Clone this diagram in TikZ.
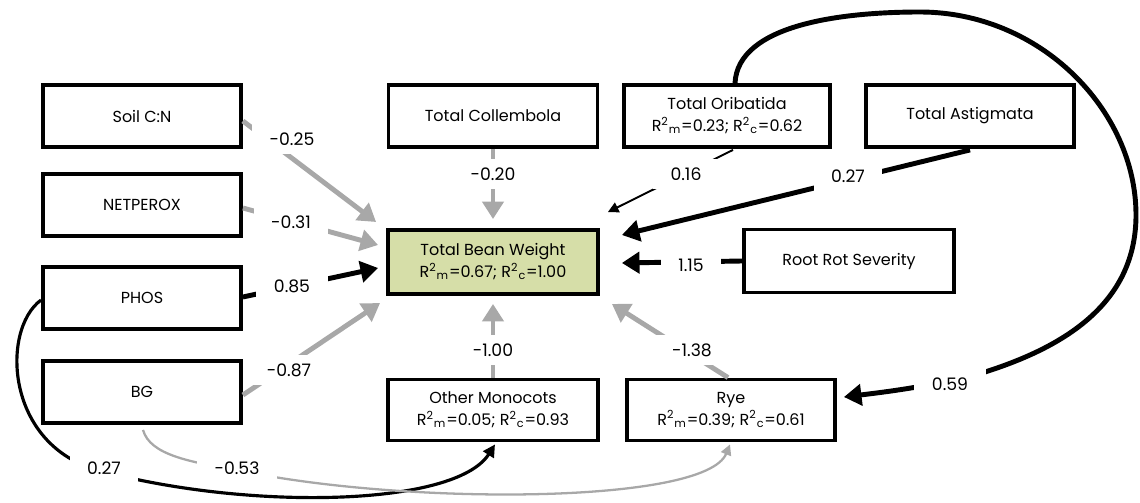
\documentclass[tikz,border=0pt]{standalone}
\usepackage{fontspec}
\setmainfont{Poppins}
\usetikzlibrary{arrows.meta,calc}
\definecolor{pathgray}{RGB}{168,168,168}
\definecolor{beanfill}{RGB}{214,222,168}
\newcommand{\rsq}[1]{R\textsuperscript{2}\textsubscript{#1}}
\begin{document}
\begin{tikzpicture}[x=0.02cm,y=-0.02cm,
  font=\fontsize{9.1}{12.5}\selectfont,
  box/.style={draw,line width=2.2pt,minimum width=3.96cm,minimum height=1.24cm,align=center,inner sep=1pt},
  lbl/.style={fill=white,inner xsep=10pt,inner ysep=5pt,font=\fontsize{9.8}{12}\selectfont},
  negedge/.style={draw=pathgray,line width=2.8pt,-{Triangle[length=10pt,width=12pt]}},
  posedge/.style={draw=black,line width=2.8pt,-{Triangle[length=10pt,width=12pt]}},
  thinedge/.style={draw=black,line width=1.1pt,-{Triangle[length=6pt,width=6pt]}},
  curvepos/.style={draw=black,line width=1.8pt,-{Triangle[length=7pt,width=7pt]}},
  curveneg/.style={draw=pathgray,line width=1.3pt,-{Triangle[length=6pt,width=6pt]}}]
\useasboundingbox (0,0) rectangle (1140,503);

% boxes
\node[box] (soil) at (142,116) {Soil C:N};
\node[box] (net)  at (142,205) {NETPEROX};
\node[box] (phos) at (142,298) {PHOS};
\node[box] (bg)   at (142,392) {BG};
\node[box,minimum width=4.18cm] (coll) at (493,116) {Total Collembola};
\node[box,minimum width=4.12cm] (orib) at (727,116) {Total Oribatida\\\rsq{m}=0.23; \rsq{c}=0.62};
\node[box,minimum width=4.16cm] (astig) at (970,116) {Total Astigmata};
\node[box,minimum width=4.2cm,minimum height=1.28cm,fill=beanfill] (tbw) at (493,262) {Total Bean Weight\\\rsq{m}=0.67; \rsq{c}=1.00};
\node[box,minimum width=4.2cm,minimum height=1.26cm] (root) at (849,261) {Root Rot Severity};
\node[box,minimum width=4.2cm,minimum height=1.22cm] (mono) at (493,410) {Other Monocots\\\rsq{m}=0.05; \rsq{c}=0.93};
\node[box,minimum width=4.16cm,minimum height=1.22cm] (rye) at (731,410) {Rye\\\rsq{m}=0.39; \rsq{c}=0.61};

% straight paths into Total Bean Weight
\draw[negedge] ($(soil.east)+(0,5)$) -- ($(tbw.west)+(-10,-40)$);
\draw[negedge] ($(net.east)+(0,3)$) -- ($(tbw.west)+(-8,-17)$);
\draw[posedge] ($(phos.east)+(0,-1)$) -- ($(tbw.west)+(-8,6)$);
\draw[negedge] ($(bg.east)+(0,3)$) -- ($(tbw.west)+(-6,41)$);
\draw[negedge] (coll.south) -- ($(tbw.north)+(0,-9)$);
\draw[negedge] (mono.north) -- ($(tbw.south)+(0,8)$);
\draw[negedge] ($(rye.north)+(-3,0)$) -- ($(tbw.south east)+(12,8)$);
\draw[thinedge] ($(orib.south)+(6,1)$) -- ($(tbw.north east)+(8,-16)$);
\draw[posedge] ($(astig.south)+(0,1)$) -- ($(tbw.east)+(22,-27)$);
\draw[posedge] (root.west) -- ($(tbw.east)+(22,1)$);

% curved paths
\draw[posedge] ($(orib.north)+(8,0)$) .. controls (738,25) and (840,12) .. (920,12)
  .. controls (1040,12) and (1136,110) .. (1136,215)
  .. controls (1136,300) and (1070,345) .. (985,372)
  .. controls (935,386) and (885,392) .. ($(rye.east)+(7,-13)$);
\draw[curvepos] ($(phos.west)+(0,2)$) .. controls (0,330) and (5,450) .. (105,472)
  .. controls (250,510) and (455,507) .. ($(mono.south)+(2,2)$);
\draw[curveneg] ($(bg.south)+(1,5)$) .. controls (150,455) and (190,462) .. (237,470)
  .. controls (400,505) and (705,505) .. ($(rye.south)+(-1,2)$);

% path coefficients
\node[lbl] (c1) at (292,139) {-0.25};
\node[lbl] (c2) at (291,222) {-0.31};
\node[lbl] (c3) at (292,286) {0.85};
\node[lbl] (c4) at (289,370) {-0.87};
\node[lbl] (c5) at (493,174) {-0.20};
\node[lbl] (c6) at (686,174) {0.16};
\node[lbl] (c7) at (848,176) {0.27};
\node[lbl] (c8) at (691,265) {1.15};
\node[lbl] (c9) at (493,350) {-1.00};
\node[lbl] (c10) at (692,350) {-1.38};
\node[lbl] (c11) at (950,384) {0.59};
\node[lbl] (c12) at (104,468) {0.27};
\node[lbl] (c13) at (237,468) {-0.53};
\end{tikzpicture}
\end{document}
